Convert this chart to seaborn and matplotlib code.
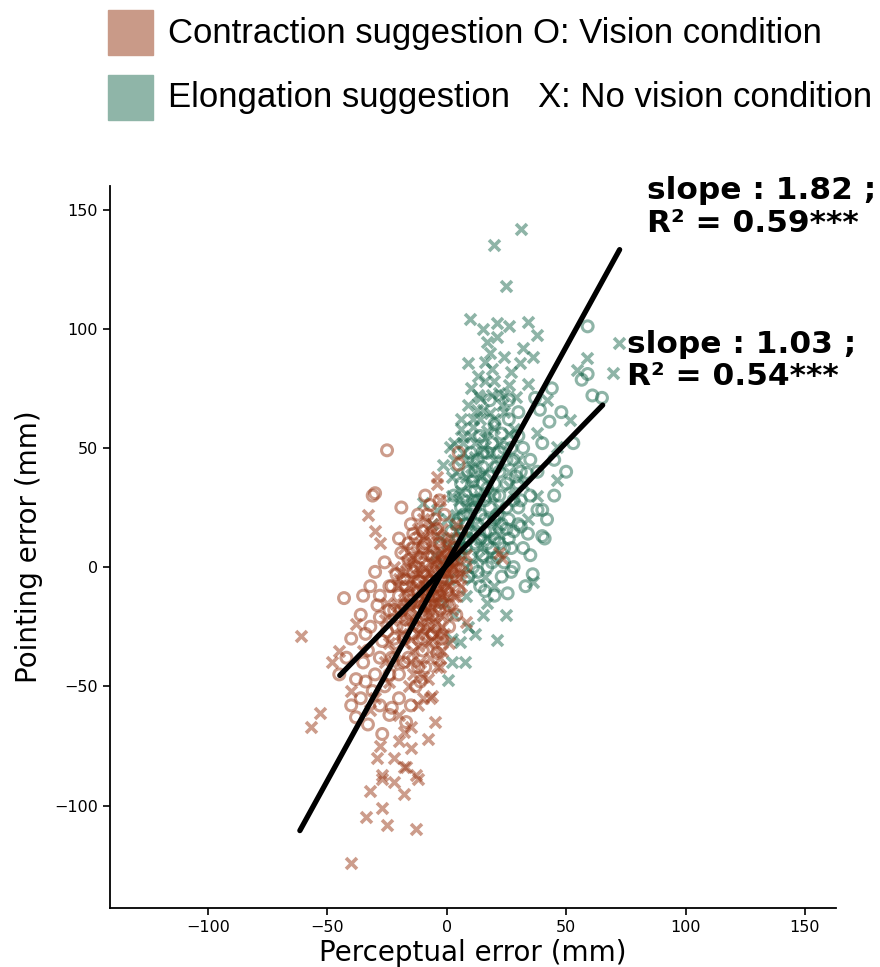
import matplotlib
matplotlib.use('Agg')
import matplotlib.pyplot as plt
from matplotlib.patches import Rectangle
import seaborn as sns
import pandas as pd
import numpy as np

# points: (perceptual error, pointing error) in mm
contraction_vision = [
    (-25, 49), (-31, 30), (-30, 31), (-43, -13), (-45, -45), (-42, -38), (-34, -28), (-36, -55),
    (-40, -58), (-28, -21), (-32, -8), (-23, -59), (-33, -66), (-29, -16), (-23, -8), (-28, -38),
    (-38, -47), (-35, -40), (-30, -45), (-26, -50), (-20, -45), (-18, -30), (-25, -27), (-22, -18),
    (-15, -20), (-12, -10), (-18, -5), (-10, -2), (-8, 5), (-14, 8), (-20, 12), (-15, 18),
    (-10, 15), (-5, 20), (-3, 10), (0, 5), (-6, -12), (-2, -5), (2, -2), (-4, 0),
    (-8, -8), (-12, -25), (-16, -38), (-20, -55), (-24, -62), (-10, -35), (-6, -28), (-3, -18),
    (3, 8), (6, 15), (-26, 2), (-30, -2), (-24, -8), (-19, 25), (-9, 30), (-4, -36),
    (1, -25), (5, -10), (8, 0), (-1, 22), (-36, -20), (-40, -30), (-17, -65), (-13, -50),
    (-27, -70), (-9, -42), (5, 48), (5, 43), (-35, -12), (-21, -3), (-16, 3), (-11, -15),
    (-7, -6), (-13, 12), (-17, -22), (-5, -25), (-1, 4), (-9, -16), (-14, -2), (-19, 6),
    (-27, -31), (-31, -52), (-38, -63), (-33, -35),
    (-16, -12), (-12, -6), (-8, -12), (-4, -8), (0, -10), (-6, 4), (-10, 8), (-14, 14),
    (-2, 0), (2, 4), (-18, -25), (-22, -30), (-14, -28), (-10, -30), (-20, -12), (-24, -18),
    (-28, -12), (-32, -25), (-34, -48), (-28, -58), (-24, -45), (-18, -40), (-15, -58), (-12, -42),
    (-6, -20), (-2, -15), (4, -4), (-8, 22), (-12, 22), (-3, 28),
    (-13, 0), (-11, 4), (-9, -20), (-7, -16), (-5, -2), (-3, -12), (-1, -2), (1, -16),
    (-15, -14), (-17, -8), (-19, -18), (-21, -25), (-23, -38), (-9, 10), (-7, 26), (-4, 16),
    (-16, 10), (-2, -30), (4, -20), (-11, -48),
]
contraction_novision = [
    (-61, -29), (-53, -61), (-57, -67), (-38, -24), (-40, -52), (-29, -80), (-22, -80), (-27, -87),
    (-18, -84), (-13, -87), (-18, -69), (-15, -67), (-6, -54), (-8, -47), (-3, -42), (-40, -124),
    (-34, -105), (-27, -101), (-25, -108), (-13, -110), (-32, -94), (-27, -89), (-17, -84), (-12, -89),
    (-15, -76), (-20, -73), (-7, -55), (-4, -42), (-4, 38), (-4, 35), (-3, 28), (23, 4),
    (22, 6), (-30, 15), (-33, 22), (-28, 10), (-25, -15), (-20, -20), (-15, -30), (-10, -25),
    (-12, -15), (-8, -18), (-5, -10), (-2, -12), (0, -8), (3, -5), (5, 2), (-6, 2),
    (-10, 5), (-3, 6), (0, 12), (-7, 14), (-12, 0), (-16, -8), (-18, -15), (-22, -35),
    (-26, -40), (-30, -55), (-24, -48), (-14, -45), (-10, -55), (-20, -62), (-11, -40), (-6, -30),
    (-2, -25), (2, -18), (6, -8), (8, 5), (4, 18), (-1, 0), (-9, -5), (-14, -12),
    (-4, -4), (1, 3), (-7, -20), (-45, -35), (-48, -40), (-35, -35), (-32, -60), (-22, -90),
    (-18, -95), (-28, -75), (-8, -72), (-5, -65), (-2, -35), (-6, 8), (-2, 16), (-9, -12),
    (-3, -2), (2, 7), (-13, -4), (-11, 10), (-1, -20), (4, -12), (-16, -22), (-8, -32),
    (-4, -15), (0, -2), (3, 0), (-5, -24), (-19, -28), (-23, -22), (-17, 2), (-21, -8),
    (8, -23),
    (-15, -5), (-13, -8), (-11, -3), (-9, 0), (-7, -3), (-5, -6), (-3, -9), (-1, -5),
    (1, -1), (3, 3), (-6, -15), (-8, -22), (-10, -18), (-12, -28), (-14, -35), (-16, -15),
    (-18, -10), (-20, -5), (-22, 0), (-18, 8), (-14, 4), (-10, 12), (-6, 18), (-2, 10),
    (2, 12), (4, 6), (6, -2), (-4, -28), (-7, -38), (-10, -46), (-12, -58), (-16, -50),
    (-20, -40), (-24, -32), (-26, -22), (-12, -33), (-9, -8), (-5, 2), (0, -14), (-3, -30),
    (-17, -2), (-15, 2), (-13, 6), (-11, -10), (-9, -14), (-7, -10), (-5, -14), (-3, -20),
    (-1, -10), (1, -8), (3, -12), (5, -4), (-16, -18), (-14, -22), (-12, -20), (-10, -10),
    (-8, -2), (-6, -8), (-4, 4), (-2, 6), (0, 2), (2, 0), (-13, -16), (-11, -24),
    (-9, -28), (-7, -26), (-5, -34), (-3, -38), (-15, -40), (-18, -32), (-6, 10), (-8, 16),
    (-10, 20), (-12, 16), (-4, 14), (0, 8), (-1, -28), (1, -32), (-19, -2), (-21, -16),
]
elongation_vision = [
    (59, 101), (59, 81), (56.5, 78.6), (61, 72), (65, 71), (37, 71), (39, 66), (26, 62),
    (43, 61), (32, 50), (28, 45), (53, 52), (14, 55), (17, 48), (33.5, 39.5), (38, 24),
    (40, 24), (40, 13), (41, 12), (28, 0), (25.5, -11), (31, 17), (45, 30), (35, 30),
    (30, 35), (22, 40), (20, 30), (25, 25), (15, 35), (12, 25), (18, 15), (10, 15),
    (22, 10), (28, 15), (35, 5), (15, 5), (8, 8), (5, 20), (3, 30), (12, 40),
    (20, 20), (30, 25), (25, 35), (16, 28), (7, 12), (24, 2), (16, -10), (32, 8),
    (38, 40), (45, 45), (50, 40), (30, 55), (24, 50), (20, 60), (10, 48), (6, 35),
    (14, 12), (2, 15), (27, -2), (11, 0), (36, -3), (42, 20), (48, 65), (44, 75),
    (30, 65), (18, 70), (20, -12), (14, -8), (33, -8), (26, 70), (8, 30), (18, 38),
    (12, 32), (22, 48), (28, 28), (4, 8), (10, 22), (19, 8), (26, 12), (34, 14),
    (9, 40), (16, 20), (23, 18), (13, 45),
    (12, 10), (16, 15), (20, 12), (24, 8), (8, 18), (14, 22), (18, 25), (22, 30),
    (26, 20), (30, 18), (11, 28), (15, 42), (19, 52), (23, 56), (27, 50), (31, 40),
    (35, 45), (40, 52), (20, 35), (7, 22), (5, 12), (10, 5), (3, 3), (17, 0), (21, 4),
    (9, 12), (13, 18), (17, 10), (21, 22), (25, 16), (13, 28), (17, 33), (21, 42),
    (11, 36), (15, 48), (25, 45), (29, 38), (19, 2), (23, -4), (27, 8), (6, 25),
    (4, 18), (9, -4), (13, -2), (31, 28),
]
elongation_novision = [
    (31, 142), (20, 135), (25, 118), (9.6, 104), (72, 94), (69.5, 81.5), (15, 100), (21, 102.5),
    (26, 101), (34, 103), (38, 97.5), (17, 94.5), (21, 96.6), (9, 85.7), (19, 83), (30.5, 85.7),
    (34, 77), (26, 76.5), (14, 71), (29, 71.4), (22, 73), (12.5, 66), (18, 64.7), (58.6, 87.8),
    (54.4, 82.8), (11, 58.8), (6.7, 54.6), (1.3, 50.4), (-1.7, 42.9), (20, 58.4), (37.7, 56.3), (46, 50.4),
    (51.5, 61.8), (36, -6.3), (21, -30.7), (16.7, -15), (46, 36.6), (-10, 27), (0.4, -47.5), (2, -40),
    (7.5, -40), (5.4, -31.5), (8, 45), (15, 50), (4, 40), (10, 35), (16, 40), (2, 30),
    (8, 25), (12, 18), (4, 15), (0, 20), (-3, 12), (6, 5), (10, -5), (15, -20),
    (12, -28), (3, -20), (-1, -15), (8, -12), (18, 5), (22, 25), (26, 40), (30, 45),
    (14, 62), (6, 62), (24, 88), (16, 78), (10, 75), (36, 88), (42, 70), (28, 30),
    (34, 20), (20, 45), (0, 10), (-5, 5), (1, -5), (9, -25), (25, -20), (-6, 18),
    (-4, 24), (2, -30), (18, 90), (13, 80), (17, 57), (7, 48), (24, 65), (3, 45),
    (12, 52), (19, 30), (5, 28), (14, 8),
    (6, 58), (9, 68), (13, 72), (16, 86), (20, 78), (23, 68), (27, 82), (32, 92),
    (28, 58), (10, 42), (14, 30), (18, 20), (6, 32), (4, 22), (2, 38), (12, 12),
    (22, 14), (26, 34), (32, 35), (38, 30), (16, -4), (20, -8), (8, 0), (-2, 2), (10, 55),
    (8, 38), (12, 46), (16, 54), (20, 62), (24, 72), (11, 62), (15, 66), (19, 72),
    (7, 52), (3, 52), (10, 28), (14, 38), (18, 48), (22, 52), (26, 56), (5, 8),
    (9, 14), (13, 4), (17, 12), (21, 18),
]

# regression lines
slopes = [1.82, 1.03]
intercepts = [1.4, 0.7]
line_x_ranges = [(-61.5, 72.4), (-44.8, 65.3)]
line_labels = ['slope : 1.82 ;\nR² = 0.59***', 'slope : 1.03 ;\nR² = 0.54***']
label_pos = [(84, 164), (75.5, 99.5)]

rows = []
for name, cond, pts in [('Elongation', 'O', elongation_vision), ('Elongation', 'X', elongation_novision),
                        ('Contraction', 'O', contraction_vision), ('Contraction', 'X', contraction_novision)]:
    for x, y in pts:
        rows.append({'suggestion': name, 'condition': cond, 'perceptual': x, 'pointing': y})
df = pd.DataFrame(rows)

colors = {'Contraction': '#9a3a18', 'Elongation': '#1f6b51'}
legend_colors = {'Contraction': '#c99a88', 'Elongation': '#8fb5a8'}

sns.set_style('ticks')
plt.rcParams['text.color'] = 'black'
plt.rcParams['axes.labelcolor'] = 'black'
plt.rcParams['xtick.color'] = 'black'
plt.rcParams['ytick.color'] = 'black'
plt.rcParams['axes.edgecolor'] = 'black'

fig = plt.figure(figsize=(8.8, 9.67), dpi=100)
ax = fig.add_axes([0.125, 0.061, 0.825, 0.747])

for sugg in ['Elongation', 'Contraction']:
    col = colors[sugg]
    d = df[(df.suggestion == sugg) & (df.condition == 'X')]
    sns.scatterplot(data=d, x='perceptual', y='pointing', marker='x', color=col,
                    s=62, linewidth=2.6, alpha=0.5, ax=ax)
    d = df[(df.suggestion == sugg) & (df.condition == 'O')]
    sns.scatterplot(data=d, x='perceptual', y='pointing', marker='o', color=col,
                    facecolor='none', edgecolor=col, s=62, linewidth=2.2, alpha=0.5, ax=ax)

for slope, icpt, xr, lab, pos in zip(slopes, intercepts, line_x_ranges, line_labels, label_pos):
    xs = np.array(xr)
    sns.lineplot(x=xs, y=slope * xs + icpt, color='black', linewidth=3.8, ax=ax,
                 solid_capstyle='round')
    ax.text(pos[0], pos[1], lab, ha='left', va='top', fontsize=22.5, fontweight='bold',
            color='black', clip_on=False, linespacing=1.15)

ax.set_xlim(-141, 163)
ax.set_ylim(-143, 160)
ax.set_xticks([-100, -50, 0, 50, 100, 150])
ax.set_yticks([-100, -50, 0, 50, 100, 150])
ax.tick_params(labelsize=11.5, width=1.2, length=5)
ax.set_xlabel('Perceptual error (mm)', fontsize=20, labelpad=3)
ax.set_ylabel('Pointing error (mm)', fontsize=20, labelpad=8)
for sp in ['left', 'bottom']:
    ax.spines[sp].set_linewidth(1.3)
sns.despine(ax=ax)

# legend drawn on the figure
for sugg, ybot, yc in [('Contraction', 0.943, 0.965), ('Elongation', 0.876, 0.899)]:
    fig.patches.append(Rectangle((0.1227, ybot), 0.051, 0.0465, transform=fig.transFigure,
                                 color=legend_colors[sugg]))
    fig.text(0.191, yc, sugg + ' suggestion', fontsize=25, family='Liberation Sans', va='center')
fig.text(0.606, 0.965, 'O: Vision condition', fontsize=25, family='Liberation Sans', va='center')
fig.text(0.611, 0.899, 'X: No vision condition', fontsize=25, family='Liberation Sans', va='center')

fig.savefig('out.png', dpi=100)
